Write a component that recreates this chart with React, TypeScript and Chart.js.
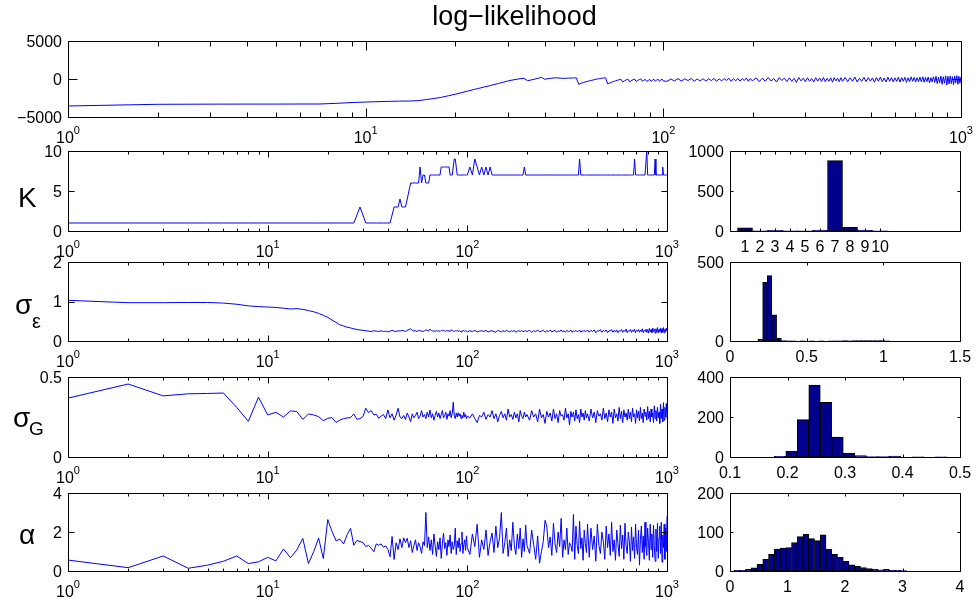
import React, { useEffect, useRef } from 'react';
import { Chart, registerables } from 'chart.js';

Chart.register(...registerables);

const FONT = '"Liberation Sans", Arial, Helvetica, sans-serif';
const LINE_BLUE = '#0000ff';
const BAR_FILL = '#00008c';

// ---------------- data ----------------
// sampled MCMC iterations: [first, last, step]
const ITER_STEPS: number[][] = [[1, 100, 1], [103, 199, 3], [205, 400, 5], [408, 1000, 8]];
const ITERATIONS: number[] = [];
for (const [a, b, s] of ITER_STEPS) for (let i = a; i <= b; i += s) ITERATIONS.push(i);

const LOGLIK = [
  -3550, -3330, -3310, -3300, -3300, -3290, -3290, -3200, -3100, -3030,
  -2980, -2940, -2910, -2900, -2850, -2700, -2560, -2400, -2200, -2000,
  -1800, -1600, -1400, -1230, -1050, -900, -730, -580, -420, -270,
  -150, -50, 40, 90, -220, -120, -20, 100, 220, -40,
  40, 100, 140, 150, 120, 80, 100, 120, 130, 140,
  150, -700, -560, -450, -360, -280, -200, -140, -60, 0,
  50, 100, 130, 150, -650, -520, -420, -330, -250, -170,
  -100, -40, -380, -250, -120, -20, -350, -230, -110, 0,
  -320, -200, -80, 20, -300, -170, -50, -320, -190, -60,
  -300, -160, -40, -280, -150, -30, -290, -140, -20, -260,
  -300, 0, -250, 50, -280, 20, -200, 60, -300, 0,
  -250, 40, -280, 30, -220, 80, -300, 20, -260, 60,
  -200, 100, -300, 40, -250, 80, -280, 50, -200, 120,
  -300, 60, -250,
  150, -350, 100, -300, 200, -250, 50, -400, 180, -200,
  120, -350, 150, -300, 80, -450, 200, -250, 100, -350,
  160, -300, 60, -400, 180, -280, 120, -320, 200, -350,
  90, -300, 150, -420, 180, -250, 110, -350, 170, -300,
  200, -350, 150, -300, 250, -400, 100, -300, 220, -350,
  180, -280, 140, -420, 200, -300, 260, -350, 120, -400,
  230, -300, 180, -380, 150, -320, 250, -400, 190, -300,
  220, -450, 160, -350, 280, -300, 200, -400, 170, -350,
  240, -380, 300, -420, 210, -350, 260, -500, 180, -400,
  300, -450, 350, -600, 250, -500, 380, -700, 300, -550,
  420, -800, 350, -650, 400, -600, 300, -750, 380, -500,
  450, -700, 350, -550, 300,
];

const K_TRACE = [
  1, 1, 1, 1, 1, 1, 1, 1, 1, 1,
  1, 1, 1, 1, 1, 1, 1, 1, 1, 1,
  1, 1, 1, 1, 1, 1, 1, 2, 3, 2,
  1, 1, 1, 1, 1, 1, 1, 1, 1, 1,
  1, 2, 3, 3, 3, 4, 3, 3, 3, 4,
  5, 6, 6, 6, 6, 6, 6, 8, 6, 7,
  7, 6, 6, 6, 7, 7, 7, 7, 7, 7,
  7, 7, 7, 8, 8, 8, 8, 8, 8, 8,
  8, 7, 7, 7, 8, 9, 9, 8, 7, 7,
  7, 7, 7, 7, 7, 7, 7, 7, 7, 7,
  8, 7, 9, 8, 7, 8, 7, 8, 7, 8,
  7, 7, 7, 7, 7, 7, 7, 7, 7, 7,
  7, 7, 7, 7, 7, 7, 7, 7, 7, 7,
  8, 7, 7,
  7, 7, 7, 7, 7, 7, 7, 7, 7, 7,
  7, 7, 7, 7, 7, 7, 7, 7, 7, 7,
  7, 7, 7, 7, 7, 7, 7, 7, 7, 7,
  7, 7, 9, 7, 7, 7, 7, 7, 7, 7,
  7, 7, 7, 7, 7, 7, 7, 7, 7, 7,
  7, 7, 7, 7, 7, 7, 7, 7, 7, 7,
  7, 7, 7, 7, 7, 7, 7, 7, 7, 7,
  7, 7, 7, 7, 7, 9, 7, 7, 7, 7,
  7, 7, 7, 7, 7, 7, 7, 7, 10, 7,
  7, 7, 7, 7, 7, 7, 7, 7, 9, 7,
  7, 7, 7, 7, 7, 7, 7, 7, 8, 7,
  7, 7, 7, 7, 7,
];

const SIGMA_EPS = [
  1.03, 0.97, 0.97, 0.975, 0.975, 0.96, 0.93, 0.89, 0.87, 0.86,
  0.85, 0.83, 0.81, 0.82, 0.80, 0.77, 0.74, 0.70, 0.65, 0.60,
  0.53, 0.47, 0.41, 0.38, 0.35, 0.33, 0.31, 0.29, 0.28, 0.27,
  0.26, 0.25, 0.24, 0.26, 0.25, 0.24, 0.26, 0.24, 0.25, 0.23,
  0.25, 0.27, 0.25, 0.24, 0.26, 0.25, 0.27, 0.26, 0.24, 0.27,
  0.29, 0.31, 0.27, 0.25, 0.26, 0.24, 0.27, 0.26, 0.25, 0.24,
  0.26, 0.28, 0.27, 0.25, 0.30, 0.27, 0.25, 0.26, 0.24, 0.27,
  0.25, 0.26, 0.24, 0.27, 0.25, 0.28, 0.26, 0.24, 0.27, 0.25,
  0.26, 0.24, 0.28, 0.27, 0.25, 0.24, 0.26, 0.25, 0.27, 0.24,
  0.26, 0.25, 0.23, 0.26, 0.25, 0.27, 0.24, 0.26, 0.25, 0.23,
  0.26, 0.24, 0.27, 0.23, 0.25, 0.26, 0.24, 0.27, 0.23, 0.25,
  0.26, 0.24, 0.22, 0.27, 0.25, 0.23, 0.26, 0.24, 0.27, 0.25,
  0.23, 0.26, 0.24, 0.27, 0.22, 0.25, 0.26, 0.24, 0.27, 0.23,
  0.25, 0.26, 0.24,
  0.27, 0.22, 0.26, 0.24, 0.28, 0.23, 0.25, 0.27, 0.22, 0.26,
  0.24, 0.28, 0.23, 0.25, 0.27, 0.22, 0.26, 0.24, 0.28, 0.23,
  0.26, 0.22, 0.27, 0.24, 0.25, 0.28, 0.22, 0.26, 0.24, 0.27,
  0.23, 0.25, 0.28, 0.22, 0.26, 0.24, 0.27, 0.23, 0.25, 0.28,
  0.22, 0.27, 0.24, 0.28, 0.21, 0.26, 0.25, 0.29, 0.22, 0.27,
  0.24, 0.28, 0.21, 0.26, 0.25, 0.29, 0.22, 0.27, 0.23, 0.28,
  0.21, 0.26, 0.25, 0.29, 0.22, 0.27, 0.24, 0.30, 0.21, 0.26,
  0.25, 0.29, 0.22, 0.28, 0.24, 0.30, 0.21, 0.27, 0.25, 0.29,
  0.22, 0.28, 0.24, 0.31, 0.21, 0.27, 0.25, 0.30, 0.22, 0.29,
  0.20, 0.32, 0.23, 0.29, 0.21, 0.33, 0.24, 0.30, 0.20, 0.31,
  0.22, 0.34, 0.21, 0.29, 0.24, 0.33, 0.20, 0.31, 0.22, 0.34,
  0.21, 0.30, 0.23, 0.33, 0.25,
];

const SIGMA_G = [
  0.368, 0.456, 0.382, 0.395, 0.397, 0.40, 0.31, 0.223, 0.374, 0.263,
  0.279, 0.25, 0.288, 0.284, 0.235, 0.269, 0.263, 0.252, 0.227, 0.242,
  0.246, 0.216, 0.231, 0.24, 0.244, 0.246, 0.269, 0.235, 0.24, 0.252,
  0.305, 0.277, 0.29, 0.263, 0.267, 0.242, 0.256, 0.265, 0.24, 0.294,
  0.245, 0.27, 0.23, 0.262, 0.305, 0.25, 0.24, 0.26, 0.235, 0.275,
  0.25, 0.22, 0.27, 0.245, 0.26, 0.28, 0.24, 0.255, 0.29, 0.25,
  0.265, 0.24, 0.28, 0.25, 0.294, 0.245, 0.27, 0.23, 0.26, 0.285,
  0.25, 0.275, 0.24, 0.265, 0.29, 0.245, 0.26, 0.28, 0.235, 0.27,
  0.255, 0.29, 0.245, 0.27, 0.342, 0.26, 0.24, 0.275, 0.25, 0.277,
  0.255, 0.27, 0.24, 0.26, 0.245, 0.28, 0.25, 0.265, 0.24, 0.255,
  0.245, 0.27, 0.24, 0.215, 0.26, 0.25, 0.28, 0.235, 0.265, 0.25,
  0.29, 0.24, 0.27, 0.22, 0.26, 0.285, 0.245, 0.27, 0.23, 0.30,
  0.25, 0.265, 0.235, 0.28, 0.245, 0.27, 0.22, 0.29, 0.255, 0.24,
  0.28, 0.25, 0.265,
  0.23, 0.29, 0.25, 0.27, 0.22, 0.30, 0.245, 0.265, 0.21, 0.285,
  0.25, 0.275, 0.225, 0.30, 0.24, 0.27, 0.215, 0.29, 0.255, 0.265,
  0.23, 0.305, 0.245, 0.27, 0.20, 0.285, 0.25, 0.28, 0.225, 0.295,
  0.24, 0.265, 0.215, 0.30, 0.25, 0.275, 0.23, 0.29, 0.245, 0.27,
  0.225, 0.30, 0.245, 0.28, 0.215, 0.29, 0.255, 0.27, 0.23, 0.305,
  0.24, 0.275, 0.22, 0.295, 0.25, 0.28, 0.21, 0.30, 0.245, 0.27,
  0.225, 0.31, 0.24, 0.285, 0.215, 0.295, 0.25, 0.275, 0.23, 0.30,
  0.24, 0.28, 0.22, 0.305, 0.25, 0.27, 0.21, 0.295, 0.245, 0.285,
  0.225, 0.31, 0.24, 0.275, 0.215, 0.30, 0.255, 0.28, 0.23, 0.315,
  0.24, 0.285, 0.22, 0.30, 0.25, 0.275, 0.215, 0.32, 0.24, 0.29,
  0.225, 0.31, 0.245, 0.28, 0.21, 0.33, 0.24, 0.30, 0.22, 0.34,
  0.23, 0.31, 0.25, 0.335, 0.24,
];

const ALPHA = [
  0.56, 0.17, 0.77, 0.14, 0.30, 0.50, 0.77, 0.38, 0.47, 0.70,
  0.52, 1.13, 0.68, 1.08, 1.67, 0.38, 0.99, 1.69, 0.64, 2.64,
  2.03, 1.55, 1.63, 1.39, 1.86, 2.19, 1.32, 1.57, 1.51, 1.46,
  1.25, 1.32, 1.17, 0.99, 1.39, 1.32, 1.39, 1.22, 1.29, 1.11,
  0.73, 1.77, 0.59, 1.45, 1.10, 1.65, 1.20, 1.70, 1.45, 1.68,
  1.20, 1.55, 0.95, 1.30, 1.60, 1.05, 1.45, 1.25, 0.90, 1.50,
  1.30, 3.00, 1.20, 1.75, 1.05, 1.60, 0.85, 1.90, 1.30, 0.75,
  1.50, 1.10, 1.70, 0.65, 1.40, 1.95, 1.15, 1.45, 0.80, 1.60,
  1.25, 1.85, 0.90, 1.50, 1.10, 1.30, 2.20, 0.85, 1.55, 1.20,
  1.70, 1.00, 1.40, 2.00, 0.90, 1.35, 1.60, 1.05, 1.80, 1.20,
  0.85, 1.90, 1.25, 2.40, 0.70, 1.60, 1.10, 2.10, 0.80, 1.50,
  1.95, 0.95, 2.30, 1.20, 1.70, 3.00, 0.90, 1.45, 2.20, 0.75,
  1.60, 1.05, 2.50, 1.30, 0.85, 1.90, 1.15, 2.20, 0.70, 1.65,
  1.00, 2.35, 1.30,
  0.90, 2.10, 1.35, 0.60, 1.80, 0.40, 1.00, 1.50, 2.60, 2.30,
  1.20, 1.75, 0.80, 2.45, 1.40, 0.95, 2.00, 1.25, 2.70, 0.70,
  1.60, 1.10, 2.20, 0.85, 1.45, 1.30, 1.00, 2.90, 0.60, 2.30,
  1.30, 0.90, 2.55, 1.15, 1.70, 0.55, 2.10, 1.40, 0.95, 2.40,
  0.70, 2.20, 1.10, 1.80, 0.50, 2.40, 1.30, 0.90, 2.00, 1.50,
  0.60, 2.30, 1.20, 1.90, 0.80, 2.50, 1.00, 1.60, 0.55, 2.10,
  1.40, 0.75, 2.35, 1.15, 1.85, 0.60, 2.45, 1.30, 0.90, 2.00,
  1.50, 0.50, 2.25, 1.05, 1.75, 0.65, 2.40, 1.20, 0.85, 2.10,
  0.30, 1.60, 2.30, 0.95, 1.80, 0.60, 2.50, 1.25, 0.80, 2.20,
  1.45, 0.55, 2.40, 1.10, 1.90, 0.70, 2.35, 1.30, 0.50, 2.15,
  1.00, 2.45, 0.65, 1.70, 2.30, 0.90, 2.50, 0.45, 1.85, 1.20,
  2.40, 0.60, 2.20, 1.00, 2.80,
];

// histograms
const K_BINS = [1, 2, 3, 4, 5, 6, 7, 8, 9, 10];
const K_COUNTS = [40, 3, 7, 2, 1, 10, 880, 45, 10, 2];

const SIGE_BINS = [
  0.197, 0.228, 0.258, 0.289, 0.320, 0.351, 0.381, 0.412, 0.443, 0.473,
  0.504, 0.535, 0.565, 0.596, 0.627, 0.658, 0.688, 0.719, 0.750, 0.780,
  0.811, 0.842, 0.872, 0.903, 0.934, 0.965, 0.995, 1.026,
];
const SIGE_COUNTS = [
  10, 371, 414, 166, 19, 3, 1, 1, 0, 1,
  0, 1, 0, 1, 0, 1, 1, 1, 2, 1,
  2, 3, 2, 2, 3, 2, 3, 1,
];

const SIGG_BINS = [0.167, 0.187, 0.207, 0.227, 0.247, 0.267, 0.287, 0.307, 0.327, 0.347, 0.367, 0.387, 0.407, 0.427, 0.447, 0.467];
const SIGG_COUNTS = [0, 3, 30, 187, 360, 273, 100, 20, 7, 2, 2, 4, 0, 1, 0, 1];

const ALPHA_BINS = [
  0.12, 0.22, 0.32, 0.42, 0.52, 0.62, 0.72, 0.82, 0.92, 1.02,
  1.12, 1.22, 1.32, 1.42, 1.52, 1.62, 1.72, 1.82, 1.92, 2.02,
  2.12, 2.22, 2.32, 2.42, 2.52, 2.62, 2.72, 2.82, 2.92, 3.02,
];
const ALPHA_COUNTS = [
  2, 2, 4, 8, 17, 30, 43, 56, 59, 60,
  73, 88, 94, 83, 78, 93, 56, 43, 35, 25,
  16, 12, 9, 6, 5, 3, 4, 2, 2, 1,
];

// tick definitions
const LOG_MAJOR = [1, 10, 100, 1000];
const LOG_EXP = ['0', '1', '2', '3'];
const LOG_MINOR = [2, 3, 4, 5, 6, 7, 8, 9, 20, 30, 40, 50, 60, 70, 80, 90, 200, 300, 400, 500, 600, 700, 800, 900];

const LL_Y_TICKS = [-5000, 0, 5000];
const LL_Y_LABELS = ['\u22125000', '0', '5000'];
const K_Y_TICKS = [0, 5, 10];
const K_Y_LABELS = ['0', '5', '10'];
const SE_Y_TICKS = [0, 1, 2];
const SE_Y_LABELS = ['0', '1', '2'];
const SG_Y_TICKS = [0, 0.5];
const SG_Y_LABELS = ['0', '0.5'];
const AL_Y_TICKS = [0, 2, 4];
const AL_Y_LABELS = ['0', '2', '4'];

const KH_X_TICKS = [1, 2, 3, 4, 5, 6, 7, 8, 9, 10];
const KH_X_LABELS = ['1', '2', '3', '4', '5', '6', '7', '8', '9', '10'];
const KH_Y_TICKS = [0, 500, 1000];
const KH_Y_LABELS = ['0', '500', '1000'];
const SEH_X_TICKS = [0, 0.5, 1, 1.5];
const SEH_X_LABELS = ['0', '0.5', '1', '1.5'];
const SEH_Y_TICKS = [0, 500];
const SEH_Y_LABELS = ['0', '500'];
const SGH_X_TICKS = [0.1, 0.2, 0.3, 0.4, 0.5];
const SGH_X_LABELS = ['0.1', '0.2', '0.3', '0.4', '0.5'];
const SGH_Y_TICKS = [0, 200, 400];
const SGH_Y_LABELS = ['0', '200', '400'];
const AH_X_TICKS = [0, 1, 2, 3, 4];
const AH_X_LABELS = ['0', '1', '2', '3', '4'];
const AH_Y_TICKS = [0, 100, 200];
const AH_Y_LABELS = ['0', '100', '200'];

// ---------------- rendering ----------------
type Spec = {
  kind: 'trace' | 'hist';
  left: number; top: number; right: number; bottom: number;
  xMin: number; xMax: number; yMin: number; yMax: number;
  xs: number[]; ys: number[];
  xMajor: number[]; xMinor: number[]; xLabels: string[]; xPow: boolean;
  yMajor: number[]; yLabels: string[];
  tick: number;
};

const PAD = { left: 66, right: 16, top: 12, bottom: 32 };

function axesPlugin(spec: Spec) {
  return {
    id: 'matlabAxes',
    afterDraw(chart: any) {
      const ctx: CanvasRenderingContext2D = chart.ctx;
      const a = chart.chartArea;
      const xs = chart.scales.x;
      const ys = chart.scales.y;
      const L = Math.round(a.left) + 0.5;
      const R = Math.round(a.right) + 0.5;
      const T = Math.round(a.top) + 0.5;
      const B = Math.round(a.bottom) + 0.5;
      const tl = spec.tick;
      const tm = Math.max(2, Math.round(tl / 2));
      ctx.save();
      ctx.strokeStyle = '#000';
      ctx.lineWidth = 1;
      ctx.beginPath();
      ctx.rect(L, T, R - L, B - T);
      for (const v of spec.xMajor) {
        const p = Math.round(xs.getPixelForValue(v)) + 0.5;
        ctx.moveTo(p, B); ctx.lineTo(p, B - tl);
        ctx.moveTo(p, T); ctx.lineTo(p, T + tl);
      }
      for (const v of spec.xMinor) {
        const p = Math.round(xs.getPixelForValue(v)) + 0.5;
        ctx.moveTo(p, B); ctx.lineTo(p, B - tm);
        ctx.moveTo(p, T); ctx.lineTo(p, T + tm);
      }
      for (const v of spec.yMajor) {
        const p = Math.round(ys.getPixelForValue(v)) + 0.5;
        ctx.moveTo(L, p); ctx.lineTo(L + tl, p);
        ctx.moveTo(R, p); ctx.lineTo(R - tl, p);
      }
      ctx.stroke();

      ctx.fillStyle = '#000';
      const big = `16px ${FONT}`;
      const small = `11px ${FONT}`;
      ctx.textBaseline = 'alphabetic';
      spec.xMajor.forEach((v, i) => {
        const p = xs.getPixelForValue(v);
        if (spec.xPow) {
          ctx.font = big;
          const w1 = ctx.measureText('10').width;
          ctx.font = small;
          const w2 = ctx.measureText(spec.xLabels[i]).width;
          const x0 = p - (w1 + w2) / 2;
          ctx.textAlign = 'left';
          ctx.font = big;
          ctx.fillText('10', x0, a.bottom + 26);
          ctx.font = small;
          ctx.fillText(spec.xLabels[i], x0 + w1, a.bottom + 17);
        } else {
          ctx.font = big;
          ctx.textAlign = 'center';
          ctx.fillText(spec.xLabels[i], p, a.bottom + 21);
        }
      });
      ctx.font = big;
      ctx.textAlign = 'right';
      spec.yMajor.forEach((v, i) => {
        const p = ys.getPixelForValue(v);
        ctx.fillText(spec.yLabels[i], a.left - 6, p + 5.5);
      });
      ctx.restore();
    },
  };
}

function Panel({ spec }: { spec: Spec }) {
  const ref = useRef<HTMLCanvasElement>(null);
  const w = spec.right - spec.left + PAD.left + PAD.right;
  const h = spec.bottom - spec.top + PAD.top + PAD.bottom;
  useEffect(() => {
    const canvas = ref.current;
    if (!canvas) return;
    const n = Math.min(spec.xs.length, spec.ys.length);
    const pts = [];
    for (let i = 0; i < n; i++) pts.push({ x: spec.xs[i], y: spec.ys[i] });
    const dataset: any = spec.kind === 'trace'
      ? { data: pts, borderColor: LINE_BLUE, borderWidth: 1, pointRadius: 0, tension: 0, fill: false }
      : { data: pts, backgroundColor: BAR_FILL, borderColor: '#000000', borderWidth: 1, borderSkipped: false, barPercentage: 1, categoryPercentage: 1 };
    const chart = new Chart(canvas, {
      type: spec.kind === 'trace' ? 'line' : 'bar',
      data: { datasets: [dataset] },
      options: {
        responsive: false,
        animation: false,
        devicePixelRatio: 1,
        events: [],
        layout: { padding: PAD },
        plugins: { legend: { display: false }, tooltip: { enabled: false }, title: { display: false } },
        scales: {
          x: {
            type: spec.kind === 'trace' ? 'logarithmic' : 'linear',
            min: spec.xMin, max: spec.xMax, display: false, offset: false,
            ticks: { maxTicksLimit: 3 },
          },
          y: { type: 'linear', min: spec.yMin, max: spec.yMax, display: false },
        },
      } as any,
      plugins: [axesPlugin(spec)],
    });
    return () => chart.destroy();
  }, [spec]);
  return (
    <canvas
      ref={ref}
      width={w}
      height={h}
      style={{ position: 'absolute', left: spec.left - PAD.left, top: spec.top - PAD.top, width: w, height: h }}
    />
  );
}

function Txt({ x, baseline, size, children }: { x: number; baseline: number; size: number; children: React.ReactNode }) {
  return (
    <div style={{
      position: 'absolute', left: x, top: baseline - 0.8465 * size, fontFamily: FONT,
      fontSize: size, lineHeight: `${size}px`, whiteSpace: 'nowrap', color: '#000',
    }}>{children}</div>
  );
}

const TRACE_L = 68, TRACE_R = 667, HIST_L = 730, HIST_R = 960;
const ROWS = [
  { top: 151, bottom: 231 },
  { top: 262, bottom: 341 },
  { top: 377, bottom: 457 },
  { top: 493, bottom: 571 },
];

function tr(row: number, ys: number[], yMin: number, yMax: number, yMajor: number[], yLabels: string[]): Spec {
  return {
    kind: 'trace', left: TRACE_L, right: TRACE_R, top: ROWS[row].top, bottom: ROWS[row].bottom,
    xMin: 1, xMax: 1000, yMin, yMax, xs: ITERATIONS, ys,
    xMajor: LOG_MAJOR, xMinor: LOG_MINOR, xLabels: LOG_EXP, xPow: true,
    yMajor, yLabels, tick: 6,
  };
}

function hi(row: number, xs: number[], ys: number[], xMin: number, xMax: number, yMax: number,
  xMajor: number[], xLabels: string[], yMajor: number[], yLabels: string[]): Spec {
  return {
    kind: 'hist', left: HIST_L, right: HIST_R, top: ROWS[row].top, bottom: ROWS[row].bottom,
    xMin, xMax, yMin: 0, yMax, xs, ys,
    xMajor, xMinor: [], xLabels, xPow: false, yMajor, yLabels, tick: 3,
  };
}

const SPECS: Spec[] = [
  {
    kind: 'trace', left: 68, right: 961, top: 41, bottom: 117,
    xMin: 1, xMax: 1000, yMin: -5000, yMax: 5000, xs: ITERATIONS, ys: LOGLIK,
    xMajor: LOG_MAJOR, xMinor: LOG_MINOR, xLabels: LOG_EXP, xPow: true,
    yMajor: LL_Y_TICKS, yLabels: LL_Y_LABELS, tick: 9,
  },
  tr(0, K_TRACE, 0, 10, K_Y_TICKS, K_Y_LABELS),
  tr(1, SIGMA_EPS, 0, 2, SE_Y_TICKS, SE_Y_LABELS),
  tr(2, SIGMA_G, 0, 0.5, SG_Y_TICKS, SG_Y_LABELS),
  tr(3, ALPHA, 0, 4, AL_Y_TICKS, AL_Y_LABELS),
  hi(0, K_BINS, K_COUNTS, 0, 15.33, 1000, KH_X_TICKS, KH_X_LABELS, KH_Y_TICKS, KH_Y_LABELS),
  hi(1, SIGE_BINS, SIGE_COUNTS, 0, 1.5, 500, SEH_X_TICKS, SEH_X_LABELS, SEH_Y_TICKS, SEH_Y_LABELS),
  hi(2, SIGG_BINS, SIGG_COUNTS, 0.1, 0.5, 400, SGH_X_TICKS, SGH_X_LABELS, SGH_Y_TICKS, SGH_Y_LABELS),
  hi(3, ALPHA_BINS, ALPHA_COUNTS, 0, 4, 200, AH_X_TICKS, AH_X_LABELS, AH_Y_TICKS, AH_Y_LABELS),
];

export default function App() {
  return (
    <div style={{ position: 'absolute', left: 0, top: 0, width: 979, height: 605, overflow: 'hidden', background: '#fff' }}>
      {SPECS.map((s, i) => <Panel key={i} spec={s} />)}
      <div style={{
        position: 'absolute', left: 68, width: 893, top: 26 - 0.8465 * 27, textAlign: 'center',
        fontFamily: FONT, fontSize: 27, lineHeight: '27px', color: '#000', whiteSpace: 'nowrap',
      }}>log{'\u2212'}likelihood</div>
      <Txt x={18} baseline={208} size={28}>K</Txt>
      <Txt x={15} baseline={315} size={28}>{'\u03c3'}</Txt>
      <Txt x={32} baseline={328} size={20}>{'\u03b5'}</Txt>
      <Txt x={13} baseline={428} size={28}>{'\u03c3'}</Txt>
      <Txt x={29} baseline={435} size={19}>G</Txt>
      <Txt x={19} baseline={545} size={28}>{'\u03b1'}</Txt>
    </div>
  );
}
